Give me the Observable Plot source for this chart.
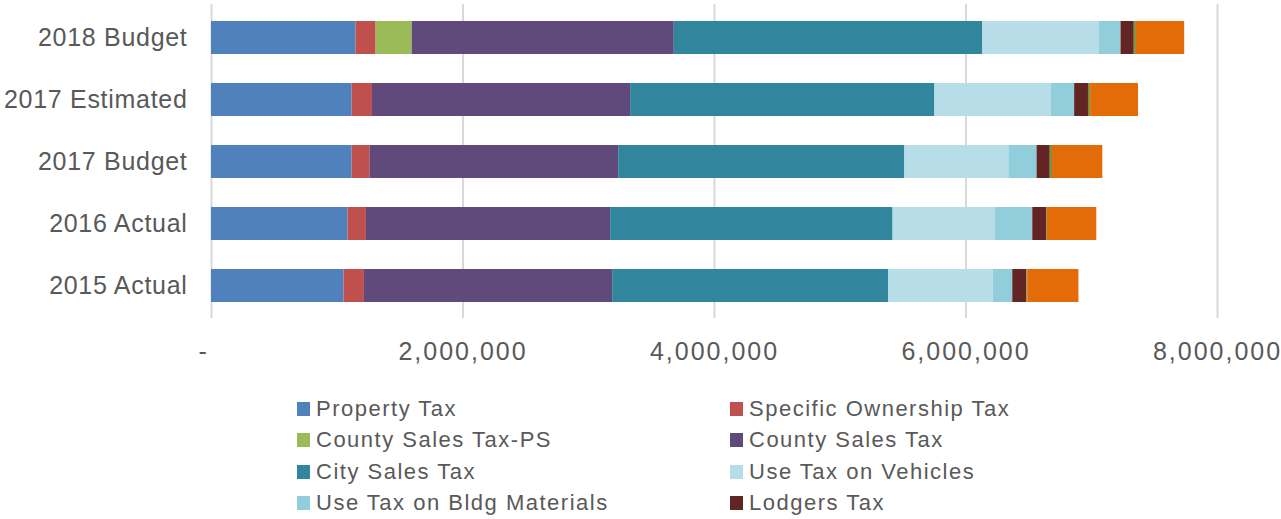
<!DOCTYPE html>
<html>
<head>
<meta charset="utf-8">
<script src="https://cdn.jsdelivr.net/npm/d3@7"></script>
<script src="https://cdn.jsdelivr.net/npm/@observablehq/plot@0.6"></script>
<style>
  body { margin: 0; background: #fff; font-family: "Liberation Sans", Arial, sans-serif; }
  #wrap { position: relative; width: 1281px; height: 519px; }
  #legend { position: absolute; left: 297px; top: 393px; display: grid;
    grid-template-columns: 433px 340px; grid-auto-rows: 31.5px; color: #595959; font-size: 22px; letter-spacing: 1.5px; }
  .item { display: flex; align-items: center; white-space: nowrap; }
  .sw { width: 13px; height: 14px; margin-right: 6px; flex: none; }
  .xax text { letter-spacing: 2px; }
  .yax text { letter-spacing: 0.7px; }
</style>
</head>
<body>
<div id="wrap"><div id="chart"></div><div id="legend"></div></div>
<script>
const categories = ["2018 Budget", "2017 Estimated", "2017 Budget", "2016 Actual", "2015 Actual"];
const seriesNames = ["Property Tax", "Specific Ownership Tax", "County Sales Tax-PS", "County Sales Tax",
  "City Sales Tax", "Use Tax on Vehicles", "Use Tax on Bldg Materials", "Lodgers Tax", "Other Tax", "Other Revenue"];
const legendShown = 8;
const seriesColors = ["#4f81bd", "#c0504d", "#9bbb59", "#604a7b", "#31859c", "#b7dee8", "#92cddc", "#632523", "#77933c", "#e36c09"];
// values per series, in category order
const propertyTax      = [1150000, 1118000, 1118000, 1086000, 1054000];
const specificOwnTax   = [ 159000,  162000,  144000,  146000,  162000];
const countySalesPS    = [ 287000,       0,       0,       0,       0];
const countySalesTax   = [2084000, 2053000, 1976000, 1942000, 1974000];
const citySalesTax     = [2454000, 2420000, 2276000, 2246000, 2196000];
const useTaxVehicles   = [ 926000,  926000,  827000,  813000,  830000];
const useTaxBldg       = [ 173000,  185000,  224000,  298000,  156000];
const lodgersTax       = [ 105000,  110000,  105000,  111000,  111000];
const otherTax         = [  17000,   17000,   18000,    6000,    8000];
const otherRevenue     = [ 384000,  381000,  400000,  392000,  407000];
const xTicks = [0, 2000000, 4000000, 6000000, 8000000];

const seriesValues = [propertyTax, specificOwnTax, countySalesPS, countySalesTax, citySalesTax,
  useTaxVehicles, useTaxBldg, lodgersTax, otherTax, otherRevenue];
const data = [];
seriesNames.forEach((s, si) => categories.forEach((c, ci) => data.push({category: c, series: s, value: seriesValues[si][ci]})));

const fmt = d3.format(",");
const chart = Plot.plot({
  width: 1281, height: 380,
  marginLeft: 211, marginRight: 64, marginTop: 4, marginBottom: 62,
  style: {fontFamily: '"Liberation Sans", Arial, sans-serif', color: "#595959", background: "#fff"},
  x: {domain: [0, 8000000], label: null},
  y: {domain: categories, paddingInner: 0.47, paddingOuter: 0.235, label: null},
  color: {domain: seriesNames, range: seriesColors},
  marks: [
    Plot.ruleX(xTicks, {stroke: "#d9d9d9", strokeWidth: 2}),
    Plot.barX(data, {x: "value", y: "category", fill: "series", order: seriesNames}),
    Plot.axisX(xTicks, {tickSize: 0, tickPadding: 24, fontSize: 25, className: "xax",
      tickFormat: d => d === 0 ? "-\u2007" : fmt(d), label: null}),
    Plot.axisY({tickSize: 0, tickPadding: 24, fontSize: 25, className: "yax", label: null})
  ]
});
document.getElementById("chart").appendChild(chart);

const legend = document.getElementById("legend");
seriesNames.slice(0, legendShown).forEach((s, i) => {
  const it = document.createElement("div");
  it.className = "item";
  const sw = document.createElement("span");
  sw.className = "sw";
  sw.style.background = seriesColors[i];
  it.appendChild(sw);
  it.appendChild(document.createTextNode(s));
  legend.appendChild(it);
});
</script>
</body>
</html>
